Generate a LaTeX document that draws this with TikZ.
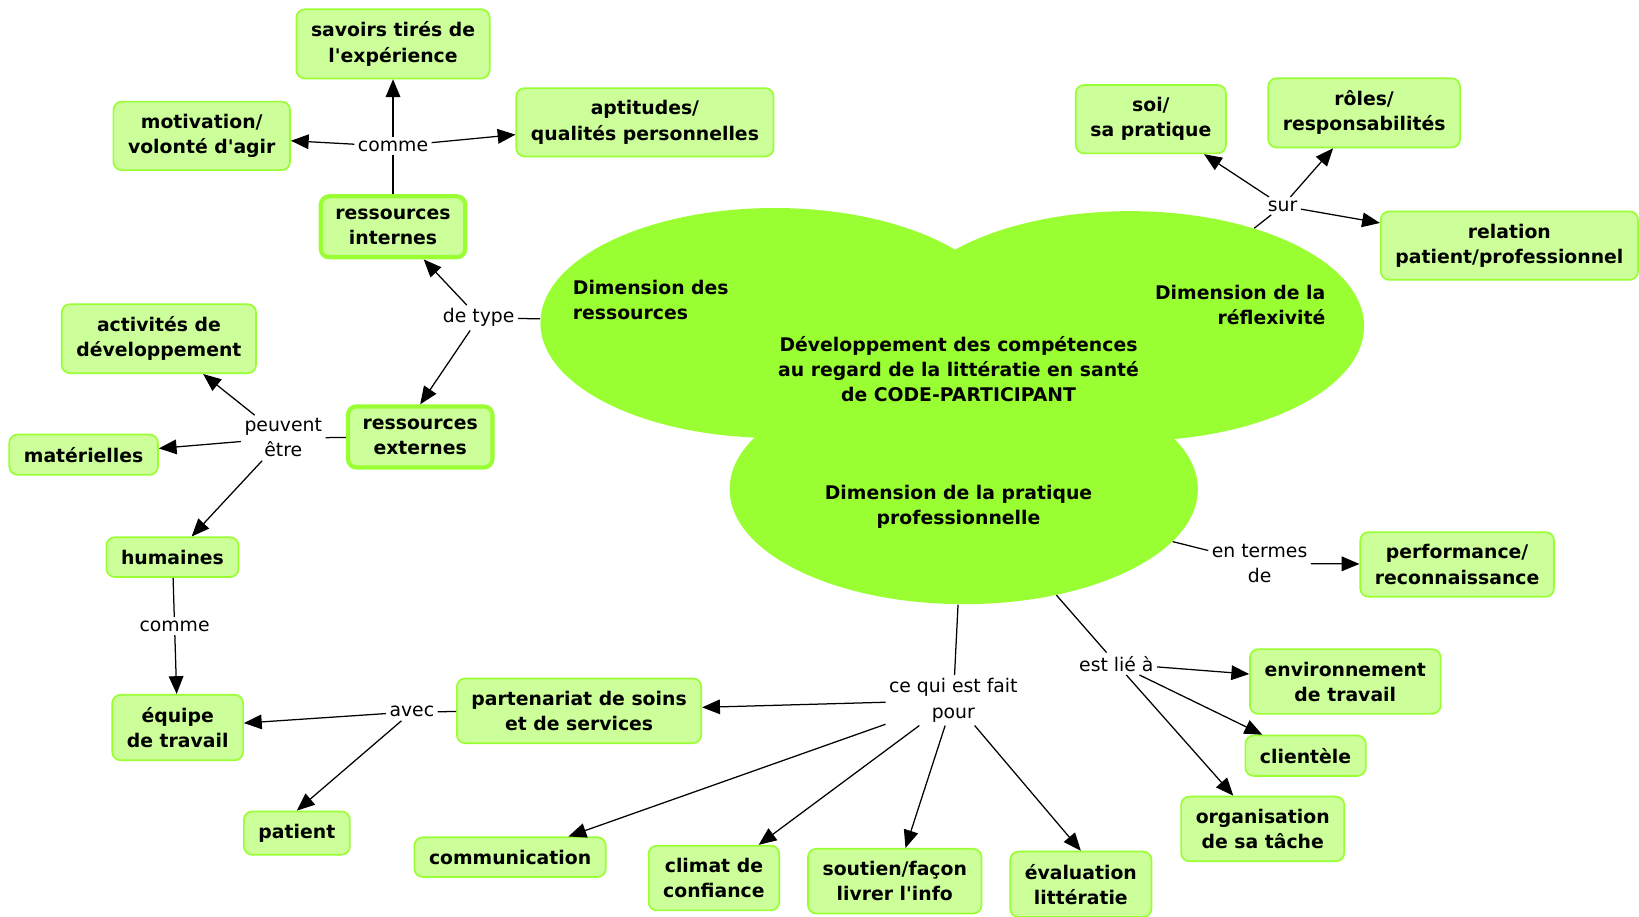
\documentclass[tikz,border=0pt]{standalone}
\usepackage{fontspec}
\setmainfont{DejaVu Sans}
\usetikzlibrary{shapes.geometric,arrows.meta}
\definecolor{ink}{HTML}{000000}
\definecolor{cloud}{HTML}{99FF33}
\definecolor{leaf}{HTML}{CCFF99}
\definecolor{leafedge}{HTML}{99FF33}
\newcommand{\conceptfont}{\fontsize{9}{12}\selectfont\bfseries}
\newcommand{\linkfont}{\fontsize{9}{12}\selectfont}
\newcommand{\apos}{\textquotesingle}

\begin{document}
\begin{tikzpicture}[x=0.5pt,y=-0.5pt,
  concept/.style={draw=leafedge, fill=leaf, line width=0.8pt, rounded corners=4pt,
    align=center, font=\conceptfont, text=ink, inner xsep=7pt, inner ysep=6pt},
  keyconcept/.style={concept, line width=2pt},
  dimension/.style={ellipse, fill=cloud, minimum width=224pt, minimum height=110pt, inner sep=0pt},
  dimtext/.style={font=\conceptfont, text=ink},
  linker/.style={font=\linkfont, text=ink, align=center, inner sep=1.5pt},
  link/.style={draw=ink, line width=0.6pt},
  arrow/.style={link, -{Triangle[length=8.5pt,width=7pt]}}]
  \useasboundingbox (0,0) rectangle (1568,877);
  \fill[white] (0,0) rectangle (1568,877);

  % the three dimensions, drawn as one cloud
  \node[dimension] (dimres) at (741,309) {};
  \node[dimension] (dimrefl) at (1081,312) {};
  \node[dimension] (dimprat) at (922,468) {};
  \node[dimtext, anchor=west, align=left] (restxt) at (541,287) {Dimension des\\ressources};
  \node[dimtext, anchor=east, align=right] (refltxt) at (1275,292) {Dimension de la\\réflexivité};
  \node[dimtext, align=center] (central) at (917,353) {Développement des compétences\\au regard de la littératie en santé\\de CODE-PARTICIPANT};
  \node[dimtext, align=center] (prattxt) at (917,485) {Dimension de la pratique\\professionnelle};

  % concepts
  \node[concept] (savoirs) at (376,42) {savoirs tirés de\\l\apos expérience};
  \node[concept] (motivation) at (193,130) {motivation/\\volonté d\apos agir};
  \node[concept] (aptitudes) at (617,117) {aptitudes/\\qualités personnelles};
  \node[keyconcept] (internes) at (376,217) {ressources\\internes};
  \node[concept] (activites) at (152,324) {activités de\\développement};
  \node[keyconcept] (externes) at (402,418) {ressources\\externes};
  \node[concept] (materielles) at (80,435) {matérielles};
  \node[concept] (humaines) at (165,533) {humaines};
  \node[concept] (equipe) at (170,696) {équipe\\de travail};
  \node[concept] (partenariat) at (554,680) {partenariat de soins\\et de services};
  \node[concept] (patient) at (284,797) {patient};
  \node[concept] (communication) at (488,820) {communication};
  \node[concept] (climat) at (683,840) {climat de\\confiance};
  \node[concept] (soutien) at (856,843) {soutien/façon\\livrer l\apos info};
  \node[concept] (evaluation) at (1034,846) {évaluation\\littératie};
  \node[concept] (organisation) at (1208,793) {organisation\\de sa tâche};
  \node[concept] (clientele) at (1249,723) {clientèle};
  \node[concept] (environnement) at (1287,652) {environnement\\de travail};
  \node[concept] (performance) at (1394,540) {performance/\\reconnaissance};
  \node[concept] (soi) at (1101,114) {soi/\\sa pratique};
  \node[concept] (roles) at (1305,108) {rôles/\\responsabilités};
  \node[concept] (relation) at (1444,235) {relation\\patient/professionnel};

  % linking words
  \node[linker] (comme1) at (376,140) {comme};
  \node[linker] (detype) at (458,304) {de type};
  \node[linker] (peuvent) at (271,419) {peuvent\\être};
  \node[linker] (comme2) at (167,599) {comme};
  \node[linker] (avec) at (394,681) {avec};
  \node[linker] (pour) at (912,670) {ce qui est fait\\pour};
  \node[linker] (estlie) at (1068,635) {est lié à};
  \node[linker] (termes) at (1205,539) {en termes\\de};
  \node[linker] (sur) at (1227,197) {sur};

  % connectors
  \draw[link] (internes) -- (comme1);
  \foreach \dest in {savoirs,motivation,aptitudes}
    \draw[arrow] (comme1) -- (\dest);
  \draw[link] (dimres) -- (detype);
  \draw[arrow] (detype) -- (internes);
  \draw[arrow] (detype) -- (externes.north);
  \draw[link] (externes) -- (peuvent);
  \foreach \dest in {activites,materielles,humaines}
    \draw[arrow] (peuvent) -- (\dest);
  \draw[link] (humaines) -- (comme2);
  \draw[arrow] (comme2) -- (equipe);
  \draw[link] (partenariat) -- (avec);
  \draw[arrow] (avec) -- (equipe);
  \draw[arrow] (avec) -- (patient.north);
  \draw[link] (dimprat) -- (pour);
  \foreach \dest in {partenariat,communication,climat,soutien,evaluation.north}
    \draw[arrow] (pour) -- (\dest);
  \draw[link] (dimprat) -- (estlie);
  \foreach \dest in {environnement,clientele,organisation}
    \draw[arrow] (estlie) -- (\dest);
  \draw[link] (dimprat) -- (termes);
  \draw[arrow] (termes) -- (performance);
  \draw[link] (dimrefl) -- (sur);
  \foreach \dest in {soi,roles,relation}
    \draw[arrow] (sur) -- (\dest);
\end{tikzpicture}
\end{document}
